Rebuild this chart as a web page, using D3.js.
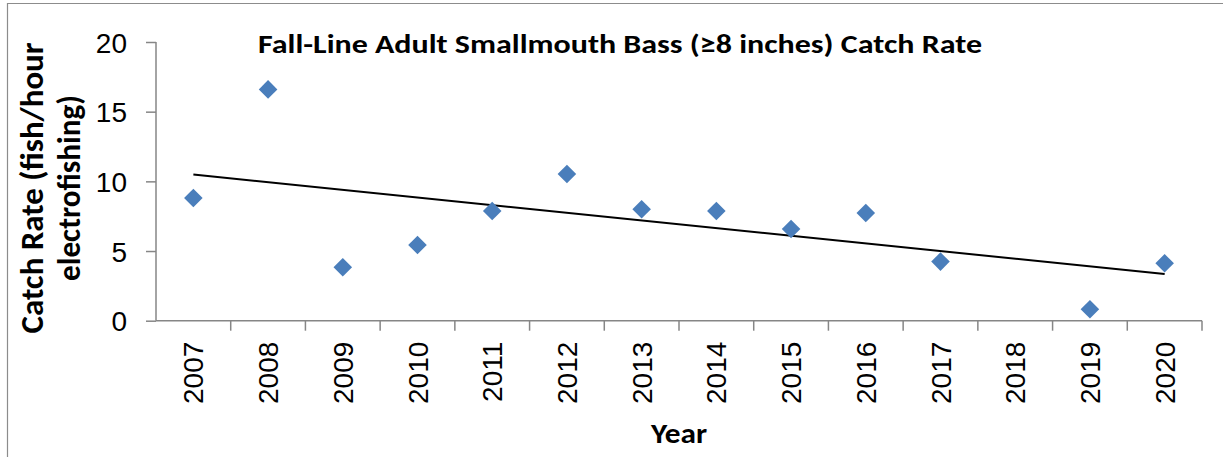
<!DOCTYPE html>
<html>
<head>
<meta charset="utf-8">
<script src="https://cdn.jsdelivr.net/npm/d3@7"></script>
<style>
  html, body { margin: 0; padding: 0; background: #ffffff; }
  svg { display: block; }
</style>
</head>
<body>
<svg id="chart" width="1223" height="457"></svg>
<script>
// ---- data ----
const years = ["2007","2008","2009","2010","2011","2012","2013","2014","2015","2016","2017","2018","2019","2020"];
const catchRate = [8.8, 16.6, 3.83, 5.43, 7.87, 10.53, 8.0, 7.87, 6.58, 7.73, 4.24, null, 0.82, 4.12];
const yTicks = [0, 5, 10, 15, 20];
const titleText = "Fall-Line Adult Smallmouth Bass (\u22658 inches) Catch Rate";
const yTitleLines = ["Catch Rate (fish/hour", "electrofishing)"];
const xTitleText = "Year";

// ---- layout ----
const W = 1223, H = 457;
const plot = { left: 156, right: 1202, top: 42, bottom: 320.7 };
const axisColor = "#868686";
const markerColor = "#4a7ebb";
const titleFont = "Carlito, Calibri, Lato, sans-serif";
const tickFont = "'Liberation Sans', Arial, sans-serif";

const svg = d3.select("#chart");

// outer border (top + left visible)
svg.append("line").attr("x1", 7).attr("x2", W).attr("y1", 3.5).attr("y2", 3.5)
  .attr("stroke", "#8c8c8c").attr("stroke-width", 1.2);
svg.append("line").attr("x1", 7.5).attr("x2", 7.5).attr("y1", 3).attr("y2", H)
  .attr("stroke", "#8c8c8c").attr("stroke-width", 1.2);

const x = d3.scaleBand().domain(years).range([plot.left, plot.right]).paddingInner(0).paddingOuter(0);
const y = d3.scaleLinear().domain([0, 20]).range([plot.bottom, plot.top]);

// y axis
const yAxis = svg.append("g").attr("transform", `translate(${plot.left},0)`)
  .call(d3.axisLeft(y).tickValues(yTicks).tickSize(10).tickPadding(19).tickFormat(d3.format("d")));
yAxis.select(".domain").attr("stroke", axisColor).attr("stroke-width", 1.5).attr("d", `M0,${plot.top}V${plot.bottom}`);
yAxis.selectAll(".tick line").attr("stroke", axisColor).attr("stroke-width", 1.5);
yAxis.selectAll(".tick text").attr("font-family", tickFont).attr("font-size", 28).attr("fill", "#000")
  .attr("dy", "0.36em");

// x axis with ticks at category boundaries
const xAxisG = svg.append("g").attr("transform", `translate(0,${plot.bottom})`);
xAxisG.append("line").attr("x1", plot.left).attr("x2", plot.right).attr("y1", 0).attr("y2", 0)
  .attr("stroke", axisColor).attr("stroke-width", 1.5);
const boundaries = years.map(d => x(d)).concat([x(years[years.length - 1]) + x.bandwidth()]).slice(1);
xAxisG.selectAll("line.tk").data(boundaries).join("line").attr("class", "tk")
  .attr("x1", d => d).attr("x2", d => d).attr("y1", 0).attr("y2", 10)
  .attr("stroke", axisColor).attr("stroke-width", 1.5);
xAxisG.selectAll("text.lbl").data(years).join("text").attr("class", "lbl")
  .attr("transform", d => `translate(${x(d) + x.bandwidth() / 2},21) rotate(-90)`)
  .attr("text-anchor", "end").attr("dy", "0.36em")
  .attr("font-family", tickFont).attr("font-size", 28).attr("fill", "#000")
  .text(d => d);

// linear trendline (least squares on category index, skipping missing)
const pts = catchRate.map((v, i) => ({ i: i + 1, v })).filter(p => p.v !== null);
const mx = d3.mean(pts, p => p.i), my = d3.mean(pts, p => p.v);
const slope = d3.sum(pts, p => (p.i - mx) * (p.v - my)) / d3.sum(pts, p => (p.i - mx) ** 2);
const intercept = my - slope * mx;
const cx = i => x(years[i - 1]) + x.bandwidth() / 2;
const first = pts[0].i, last = pts[pts.length - 1].i;
svg.append("line")
  .attr("x1", cx(first)).attr("y1", y(intercept + slope * first))
  .attr("x2", cx(last)).attr("y2", y(intercept + slope * last))
  .attr("stroke", "#000").attr("stroke-width", 2);

// markers
const diamond = d3.symbol().type(d3.symbolDiamond2).size(220);
svg.selectAll("path.pt").data(years.map((yr, i) => ({ yr, v: catchRate[i] })).filter(d => d.v !== null))
  .join("path").attr("class", "pt")
  .attr("d", diamond)
  .attr("transform", d => `translate(${x(d.yr) + x.bandwidth() / 2},${y(d.v)})`)
  .attr("fill", markerColor);

// titles
svg.append("text").attr("x", 620).attr("y", 53).attr("text-anchor", "middle")
  .attr("font-family", titleFont).attr("font-weight", "bold").attr("font-size", 27)
  .attr("textLength", 724).attr("lengthAdjust", "spacingAndGlyphs")
  .text(titleText);

const yLens = [291, 186];
const yBase = [43, 80];
yTitleLines.forEach((t, k) => {
  svg.append("text").attr("transform", `translate(${yBase[k]},188) rotate(-90)`)
    .attr("text-anchor", "middle")
    .attr("font-family", titleFont).attr("font-weight", "bold").attr("font-size", 32)
    .attr("textLength", yLens[k]).attr("lengthAdjust", "spacingAndGlyphs")
    .text(t);
});

svg.append("text").attr("x", 679).attr("y", 443).attr("text-anchor", "middle")
  .attr("font-family", titleFont).attr("font-weight", "bold").attr("font-size", 28)
  .attr("textLength", 56).attr("lengthAdjust", "spacingAndGlyphs")
  .text(xTitleText);
</script>
</body>
</html>
